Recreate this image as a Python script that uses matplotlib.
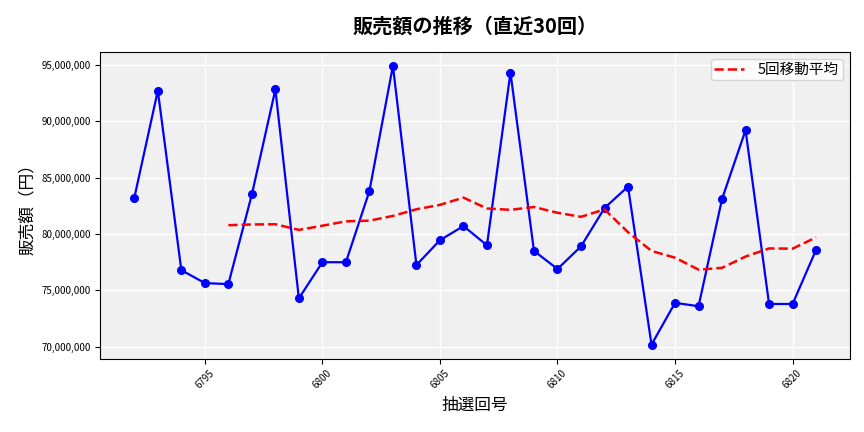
import matplotlib
matplotlib.use('Agg')
import matplotlib.pyplot as plt
import matplotlib.ticker as mticker
import pandas as pd

plt.rcParams['font.family'] = ['Noto Sans CJK JP', 'DejaVu Sans']

# draw numbers and sales (yen)
draws = list(range(6792, 6822))
sales = [83.2, 92.7, 76.8, 75.65, 75.56, 83.5, 92.8, 74.3, 77.5, 77.5,
         83.8, 94.9, 77.25, 79.45, 80.7, 79.0, 94.3, 78.5, 76.9, 78.9,
         82.3, 84.2, 70.2, 73.9, 73.6, 83.1, 89.2, 73.8, 73.8, 78.6]
sales = [v * 1_000_000 for v in sales]

df = pd.DataFrame({'draw': draws, 'sales': sales})
df['ma5'] = df['sales'].rolling(5).mean()

fig, ax = plt.subplots(figsize=(8.64, 4.32), dpi=100)
fig.subplots_adjust(left=0.116, right=0.984, top=0.88, bottom=0.17)

ax.set_facecolor('#f0f0f0')
ax.grid(True, color='white', linewidth=1)
ax.set_axisbelow(True)

ax.plot(df['draw'], df['sales'], color='blue', marker='o', markersize=5.5, linewidth=1.6)
ax.plot(df['draw'], df['ma5'], color='red', linestyle='--', linewidth=1.8, label='5回移動平均')

ax.set_title('販売額の推移（直近30回）', fontsize=14.5, fontweight='bold', pad=14)
ax.set_xlabel('抽選回号', fontsize=12)
ax.set_ylabel('販売額（円）', fontsize=12)

ax.yaxis.set_major_formatter(mticker.FuncFormatter(lambda v, p: f'{int(v):,}'))
ax.xaxis.set_major_locator(mticker.MultipleLocator(5))
ax.tick_params(axis='x', labelrotation=45, labelsize=7)
ax.tick_params(axis='y', labelsize=7)

ax.legend(loc='upper right', fontsize=10.5, borderpad=0.25, handletextpad=1.0)

fig.savefig('out.png')
